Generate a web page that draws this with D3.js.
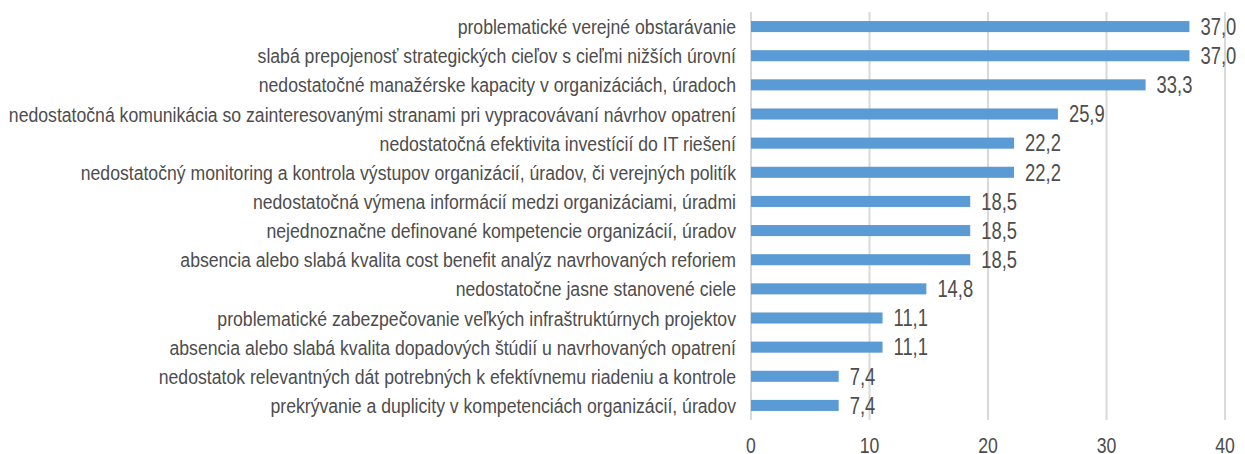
<!DOCTYPE html>
<html>
<head>
<meta charset="utf-8">
<script src="https://cdn.jsdelivr.net/npm/d3@7"></script>
<style>
  body { margin: 0; background: #fff; }
  text { font-family: "Liberation Sans", Arial, sans-serif; }
</style>
</head>
<body>
<div id="chart"></div>
<script>
// Categories, top to bottom
const categories = [
  'problematické verejné obstarávanie',
  'slabá prepojenosť strategických cieľov s cieľmi nižších úrovní',
  'nedostatočné manažérske kapacity v organizáciách, úradoch',
  'nedostatočná komunikácia so zainteresovanými stranami pri vypracovávaní návrhov opatrení',
  'nedostatočná efektivita investícií do IT riešení',
  'nedostatočný monitoring a kontrola výstupov organizácií, úradov, či verejných politík',
  'nedostatočná výmena informácií medzi organizáciami, úradmi',
  'nejednoznačne definované kompetencie organizácií, úradov',
  'absencia alebo slabá kvalita cost benefit analýz navrhovaných reforiem',
  'nedostatočne jasne stanovené ciele',
  'problematické zabezpečovanie veľkých infraštruktúrnych projektov',
  'absencia alebo slabá kvalita dopadových štúdií u navrhovaných opatrení',
  'nedostatok relevantných dát potrebných k efektívnemu riadeniu a kontrole',
  'prekrývanie a duplicity v kompetenciách organizácií, úradov'
];
const values = [37.0, 37.0, 33.3, 25.9, 22.2, 22.2, 18.5, 18.5, 18.5, 14.8, 11.1, 11.1, 7.4, 7.4];
const xTicks = [0, 10, 20, 30, 40];

const W = 1245, H = 454;
const margin = { top: 12, left: 751 };
const width = 1225 - margin.left;
const height = 420 - margin.top;
const textColor = '#4d4d4d';
const narrow = 0.8; // Arial Narrow look: squeeze text horizontally

const svg = d3.select('#chart').append('svg')
  .attr('width', W)
  .attr('height', H);

const g = svg.append('g')
  .attr('transform', `translate(${margin.left},${margin.top})`);

const x = d3.scaleLinear().domain([0, 40]).range([0, width]);
const y = d3.scaleBand().domain(categories).range([0, height]).paddingInner(0.62).paddingOuter(0.31);

// gridlines
g.selectAll('line.grid')
  .data(xTicks)
  .join('line')
  .attr('class', 'grid')
  .attr('x1', d => x(d))
  .attr('x2', d => x(d))
  .attr('y1', 0)
  .attr('y2', height)
  .attr('stroke', '#d9d9d9')
  .attr('stroke-width', 2);

// bars
g.selectAll('rect.bar')
  .data(values)
  .join('rect')
  .attr('class', 'bar')
  .attr('x', x(0))
  .attr('y', (d, i) => y(categories[i]))
  .attr('width', d => x(d) - x(0))
  .attr('height', y.bandwidth())
  .attr('fill', '#5b9bd5');

// value labels
g.selectAll('text.val')
  .data(values)
  .join('text')
  .attr('class', 'val')
  .attr('transform', (d, i) => `translate(${x(d) + 11},${y(categories[i]) + y.bandwidth() / 2}) scale(${narrow},1)`)
  .attr('dy', '0.36em')
  .style('font-size', '23px')
  .style('fill', textColor)
  .text(d => d3.format('.1f')(d).replace('.', ','));

// category labels
const cats = g.selectAll('text.cat')
  .data(categories)
  .join('text')
  .attr('class', 'cat')
  .attr('dy', '0.36em')
  .attr('text-anchor', 'end')
  .style('font-size', '21px')
  .style('fill', textColor)
  .text(d => d);

// squeeze so the longest label spans the same width as in the original
const longest = d3.max(cats.nodes(), n => n.getComputedTextLength());
const catScale = 728 / longest;
cats.attr('transform', d => `translate(-15,${y(d) + y.bandwidth() / 2}) scale(${catScale},1)`);

// x axis tick labels
g.selectAll('text.tick')
  .data(xTicks)
  .join('text')
  .attr('class', 'tick')
  .attr('transform', d => `translate(${x(d)},${height + 25}) scale(${narrow},1)`)
  .attr('dy', '0.36em')
  .attr('text-anchor', 'middle')
  .style('font-size', '22px')
  .style('fill', textColor)
  .text(d => d);
</script>
</body>
</html>
